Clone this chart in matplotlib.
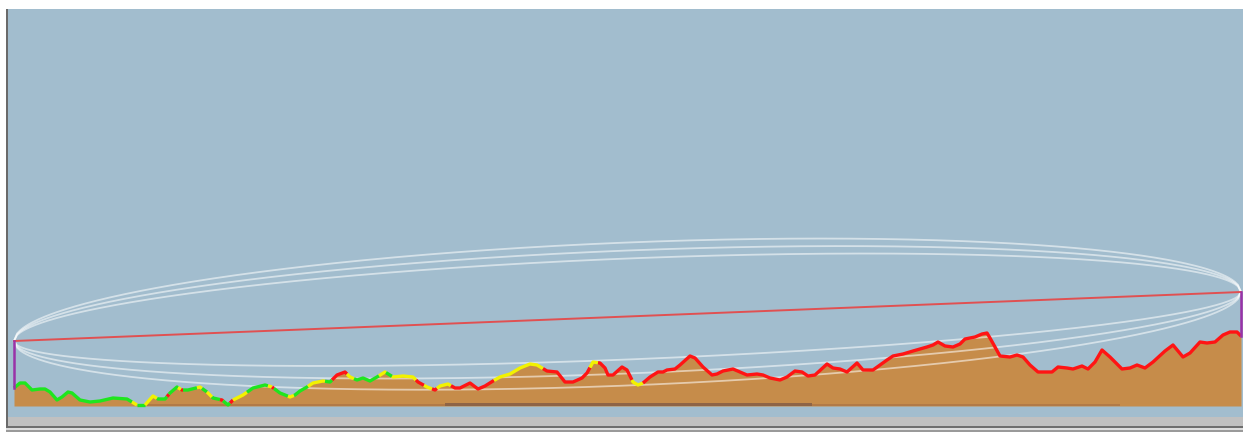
"""Radio link path profile: terrain, line of sight and Fresnel zones."""

import matplotlib

matplotlib.use("Agg")

import matplotlib.pyplot as plt
import numpy as np
from matplotlib.patches import Rectangle


# terrain profile along the path (distance km, elevation m)
profile_km = [
    0.00, 0.06, 0.11, 0.18, 0.26, 0.31, 0.36, 0.43, 0.48, 0.54, 0.58, 0.66, 0.76, 0.86, 0.99,
    1.13, 1.18, 1.23, 1.31, 1.39, 1.44, 1.51, 1.56, 1.63, 1.68, 1.74, 1.86, 1.93, 1.99, 2.08,
    2.14, 2.19, 2.29, 2.39, 2.51, 2.58, 2.66, 2.76, 2.81, 2.86, 2.93, 2.99, 3.09, 3.16, 3.23,
    3.31, 3.36, 3.43, 3.49, 3.56, 3.63, 3.71, 3.79, 3.89, 3.99, 4.04, 4.13, 4.21, 4.26, 4.34,
    4.41, 4.46, 4.56, 4.64, 4.71, 4.79, 4.86, 4.96, 5.06, 5.16, 5.23, 5.33, 5.43, 5.51, 5.59,
    5.68, 5.73, 5.79, 5.86, 5.91, 5.94, 5.99, 6.08, 6.13, 6.19, 6.24, 6.29, 6.36, 6.44, 6.49,
    6.53, 6.61, 6.66, 6.76, 6.81, 6.89, 6.98, 7.03, 7.09, 7.19, 7.26, 7.33, 7.43, 7.49, 7.56,
    7.66, 7.73, 7.81, 7.88, 7.94, 8.01, 8.13, 8.19, 8.26, 8.33, 8.43, 8.49, 8.59, 8.66, 8.73,
    8.79, 8.89, 8.99, 9.06, 9.13, 9.19, 9.24, 9.31, 9.39, 9.46, 9.51, 9.61, 9.68, 9.73, 9.76,
    9.86, 9.96, 10.03, 10.09, 10.16, 10.24, 10.38, 10.44, 10.53, 10.59, 10.68, 10.74, 10.81,
    10.88, 10.96, 11.08, 11.16, 11.23, 11.31, 11.39, 11.51, 11.59, 11.69, 11.76, 11.86, 11.93,
    12.01, 12.09, 12.16, 12.23, 12.27,
]
profile_elev = [
    138, 143, 143, 136, 137, 137, 134, 126, 129, 134, 133, 126, 124, 125, 128,
    127, 124, 121, 121, 130, 127, 127, 133, 139, 136, 136, 139, 134, 128, 126,
    121, 126, 131, 138, 141, 139, 133, 129, 131, 135, 139, 143, 145, 144, 151,
    154, 149, 146, 148, 145, 149, 154, 149, 150, 149, 144, 139, 136, 140, 142,
    138, 138, 143, 137, 140, 145, 149, 152, 158, 162, 161, 155, 154, 144, 144,
    148, 153, 164, 163, 158, 151, 151, 159, 156, 144, 141, 143, 149, 154, 154,
    156, 157, 161, 170, 168, 159, 151, 152, 155, 157, 154, 151, 152, 151, 148,
    146, 149, 155, 154, 150, 151, 162, 158, 157, 154, 163, 156, 156, 161, 166,
    170, 172, 175, 177, 179, 181, 184, 180, 179, 182, 187, 189, 192, 193, 188,
    170, 169, 171, 169, 161, 154, 154, 159, 158, 157, 160, 157, 164,
    176, 169, 157, 158, 161, 158, 164, 175, 181, 169, 173, 184, 183,
    184, 191, 194, 194, 190,
]

# clearance classification along the path: run ends (km) and codes
clear_end_km = [
    1.18, 1.23, 1.31, 1.43, 1.53, 1.55, 1.64, 1.67, 1.69, 1.83, 1.88, 1.93, 1.98, 2.06,
    2.09, 2.16, 2.19, 2.33, 2.54, 2.58, 2.60, 2.74, 2.80, 2.94, 3.11, 3.18, 3.33, 3.40,
    3.65, 3.72, 3.78, 4.02, 4.10, 4.18, 4.23, 4.37, 4.80, 5.29, 5.76, 5.84, 6.18, 6.29,
    12.27,
]
clear_code = [
    "G", "Y", "G", "Y", "G", "R", "G", "Y", "R", "G", "Y", "G", "Y", "G",
    "R", "G", "R", "Y", "G", "Y", "R", "G", "Y", "G", "Y", "G", "R", "Y",
    "G", "Y", "G", "Y", "R", "Y", "R", "Y", "R", "Y", "R", "Y", "R", "Y",
    "R",
]

# ground clutter bands at the base of the profile
clutter_start_km = [1.31, 4.31, 7.98]
clutter_end_km = [4.31, 7.98, 11.06]
clutter_kind = ["light", "dense", "light"]

# antennas (distance km, ground m, top m)
site_km = [0.00, 12.27]
site_ground = [138, 190]
site_top = [185, 234]

# Fresnel zone half-widths at mid path (m), above and below line of sight
fresnel_upper = [58, 66, 74]
fresnel_lower = [43, 57, 69]

BASE_ELEV = 120
CODE_COLORS = {"G": "#1EE61E", "Y": "#F2F200", "R": "#FF1414"}
CLUTTER_COLORS = {"light": "#B27A46", "dense": "#8E6446"}
CLUTTER_HEIGHT = {"light": 2, "dense": 3}


def terrain_run(x0, x1, xs, ys):
    inside = (xs > x0) & (xs < x1)
    rx = np.concatenate([[x0], xs[inside], [x1]])
    ry = np.concatenate([[np.interp(x0, xs, ys)], ys[inside], [np.interp(x1, xs, ys)]])
    return rx, ry


def main() -> None:
    W, H = 1243, 432
    fig = plt.figure(figsize=(W / 100, H / 100), dpi=100)
    fig.patch.set_facecolor("white")

    def px_rect(x0, y0, x1, y1, color):
        fig.add_artist(
            Rectangle((x0 / W, 1 - y1 / H), (x1 - x0) / W, (y1 - y0) / H,
                      transform=fig.transFigure, facecolor=color, edgecolor="none")
        )

    px_rect(8, 417, W, 426, "#C0C0C0")
    px_rect(6, 426, W, 428, "#6E6E6E")
    px_rect(6, 428, W, 430, "#DCDCDC")
    px_rect(6, 430, W, 432, "#9A9A9A")
    px_rect(6, 9, 8, 428, "#6A6A6A")

    ax = fig.add_axes([8 / W, (H - 417) / H, (W - 8) / W, 408 / H])
    ax.set_facecolor("#A2BDCE")
    ax.set_xlim(-0.06, 12.29)
    ax.set_ylim(109, 517)
    ax.set_xticks([])
    ax.set_yticks([])
    for spine in ax.spines.values():
        spine.set_visible(False)

    xs = np.asarray(profile_km, dtype=float)
    ys = np.asarray(profile_elev, dtype=float)

    ax.fill_between(xs, BASE_ELEV, ys, color="#C68C4A", linewidth=0, zorder=2)

    for x0, x1, kind in zip(clutter_start_km, clutter_end_km, clutter_kind):
        ax.fill_between([x0, x1], BASE_ELEV, BASE_ELEV + CLUTTER_HEIGHT[kind],
                        color=CLUTTER_COLORS[kind], linewidth=0, zorder=3)

    # line of sight and Fresnel zones
    d = np.linspace(site_km[0], site_km[1], 400)
    t = (d - site_km[0]) / (site_km[1] - site_km[0])
    los = site_top[0] + (site_top[1] - site_top[0]) * t
    shape = 2 * np.sqrt(np.clip(t * (1 - t), 0, None))
    for r_up, r_dn in zip(fresnel_upper, fresnel_lower):
        ax.plot(d, los + r_up * shape, color="white", alpha=0.55, lw=1.3, zorder=5)
        ax.plot(d, los - r_dn * shape, color="white", alpha=0.55, lw=1.3, zorder=5)
    ax.plot(site_km, site_top, color="#E84444", lw=1.4, alpha=0.9, zorder=6)

    # terrain outline coloured by clearance
    start = xs[0]
    for end, code in zip(clear_end_km, clear_code):
        rx, ry = terrain_run(start, end, xs, ys)
        ax.plot(rx, ry, color=CODE_COLORS[code], lw=2.4, solid_capstyle="butt",
                solid_joinstyle="round", zorder=7)
        start = end

    for x, g, top in zip(site_km, site_ground, site_top):
        ax.plot([x, x], [g, top], color="#9A32A8", lw=1.8, zorder=8)

    fig.savefig("out.png", dpi=100)
    plt.close(fig)


if __name__ == "__main__":
    main()
